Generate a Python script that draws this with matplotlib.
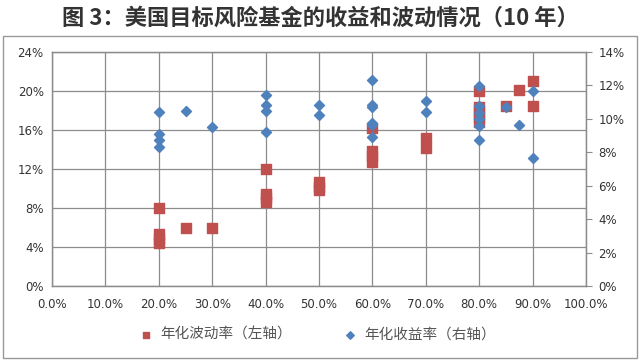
import matplotlib
matplotlib.use('Agg')
import matplotlib.pyplot as plt
from matplotlib.patches import Rectangle
from matplotlib.ticker import FuncFormatter, MultipleLocator

plt.rcParams['font.family'] = ['DejaVu Sans', 'Noto Sans CJK SC']

# annualised volatility (left axis), x = equity weight
vol_x = [0.20, 0.20, 0.20, 0.20, 0.25, 0.30,
         0.40, 0.40, 0.40, 0.40, 0.50, 0.50, 0.50,
         0.60, 0.60, 0.60, 0.60, 0.70, 0.70,
         0.80, 0.80, 0.80, 0.80, 0.80, 0.85, 0.875, 0.90, 0.90]
vol_y = [0.080, 0.053, 0.048, 0.044, 0.0595, 0.059,
         0.120, 0.094, 0.090, 0.086, 0.107, 0.102, 0.098,
         0.162, 0.138, 0.133, 0.127, 0.152, 0.142,
         0.200, 0.184, 0.179, 0.173, 0.168, 0.185, 0.201, 0.210, 0.185]

# annualised return (right axis)
ret_x = [0.20, 0.20, 0.20, 0.20, 0.25, 0.30,
         0.40, 0.40, 0.40, 0.40, 0.50, 0.50,
         0.60, 0.60, 0.60, 0.60, 0.60, 0.60, 0.70, 0.70,
         0.80, 0.80, 0.80, 0.80, 0.80, 0.80, 0.85, 0.875, 0.90, 0.90]
ret_y = [0.1044, 0.0910, 0.0874, 0.0830, 0.1050, 0.0949,
         0.1144, 0.1080, 0.1050, 0.0923, 0.1080, 0.1025,
         0.1233, 0.1080, 0.1068, 0.0978, 0.0965, 0.0889, 0.1104, 0.1039,
         0.1198, 0.1078, 0.1037, 0.1000, 0.0959, 0.0874, 0.1068, 0.0965, 0.1166, 0.0763]

title = '图 3：美国目标风险基金的收益和波动情况（10 年）'
vol_label = '年化波动率（左轴）'
ret_label = '年化收益率（右轴）'

red = '#C0504D'
blue = '#4F81BD'
grid_c = '#8C8C8C'

fig = plt.figure(figsize=(6.4, 3.64), dpi=100)
ax = fig.add_axes([52 / 640, 1 - 286 / 364, 534 / 640, 234 / 364])
ax2 = ax.twinx()

ax.scatter(vol_x, vol_y, marker='s', s=44, color=red, zorder=3, label=vol_label)
ax2.scatter(ret_x, ret_y, marker='D', s=26, color=blue, zorder=3, label=ret_label)

ax.set_xlim(0, 1.0)
ax.set_ylim(0, 0.24)
ax2.set_ylim(0, 0.14)
ax.xaxis.set_major_locator(MultipleLocator(0.1))
ax.yaxis.set_major_locator(MultipleLocator(0.04))
ax2.yaxis.set_major_locator(MultipleLocator(0.02))
ax.xaxis.set_major_formatter(FuncFormatter(lambda v, p: '%.1f%%' % (v * 100)))
ax.yaxis.set_major_formatter(FuncFormatter(lambda v, p: '%d%%' % round(v * 100)))
ax2.yaxis.set_major_formatter(FuncFormatter(lambda v, p: '%d%%' % round(v * 100)))

ax.grid(True, color=grid_c, linewidth=0.9)
ax.set_axisbelow(True)
for a in (ax, ax2):
    for s in a.spines.values():
        s.set_color(grid_c)
        s.set_linewidth(0.9)
ax.tick_params(axis='both', length=0, labelsize=8.5, colors='#333333', pad=6)
ax.tick_params(axis='x', pad=9)
ax2.tick_params(axis='y', length=4, color=grid_c, labelsize=8.5, labelcolor='#333333', pad=5)

fig.text(0.5, 0.95, title, ha='center', va='center', fontsize=16, fontweight='bold',
         color='#333333', family=['Noto Sans CJK SC', 'DejaVu Sans'])

h1, l1 = ax.get_legend_handles_labels()
h2, l2 = ax2.get_legend_handles_labels()
leg = fig.legend(h1 + h2, l1 + l2, loc='center', bbox_to_anchor=(0.49, 1 - 335 / 364),
                 ncol=2, frameon=False, handletextpad=0.0, columnspacing=3.0,
                 markerscale=0.75, prop={'family': ['Noto Sans CJK SC', 'DejaVu Sans'], 'size': 10.5})
for t in leg.get_texts():
    t.set_color('#555555')

fig.patches.append(Rectangle((3 / 640, 1 - 358 / 364), 634 / 640, 322 / 364,
                             transform=fig.transFigure, fill=False,
                             edgecolor='#999999', linewidth=1.0))

fig.savefig('out.png', dpi=100)
